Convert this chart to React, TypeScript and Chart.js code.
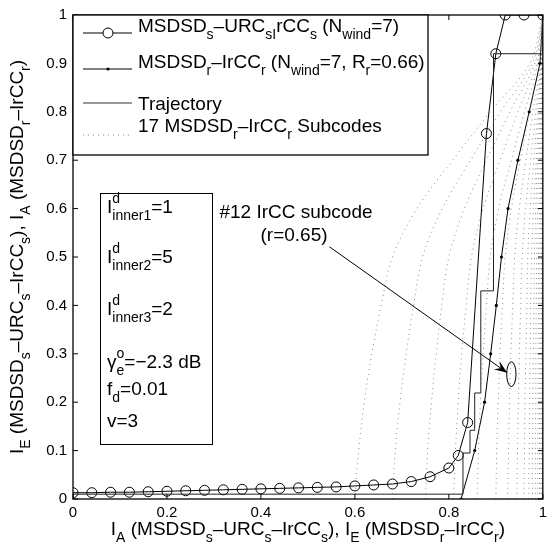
import React, { useEffect, useRef } from 'react';
import { Chart, registerables } from 'chart.js';
Chart.register(...registerables);

const FONT = '"Liberation Sans", Arial, Helvetica, sans-serif';

const xTicks = [0, 0.2, 0.4, 0.6, 0.8, 1];
const yTicks = [0, 0.1, 0.2, 0.3, 0.4, 0.5, 0.6, 0.7, 0.8, 0.9, 1];

// MSDSD_s-URC_s-IrCC_s (circles)
const urcX = [0, 0.04, 0.08, 0.12, 0.16, 0.2, 0.24, 0.28, 0.32, 0.36, 0.4, 0.44, 0.48, 0.52, 0.56, 0.6, 0.64, 0.68, 0.72, 0.76, 0.8, 0.82, 0.84, 0.88, 0.9, 0.92, 0.96, 1];
const urcY = [0.013, 0.013, 0.014, 0.014, 0.015, 0.016, 0.017, 0.018, 0.019, 0.02, 0.021, 0.022, 0.023, 0.024, 0.025, 0.027, 0.029, 0.031, 0.036, 0.046, 0.064, 0.09, 0.158, 0.755, 0.92, 1, 1, 1];

// MSDSD_r-IrCC_r (dots)
const ircX = [0.826, 0.855, 0.876, 0.889, 0.901, 0.912, 0.926, 0.947, 0.971, 0.994, 1];
const ircY = [0, 0.1, 0.2, 0.3, 0.4, 0.5, 0.6, 0.7, 0.8, 0.9, 1];

// Trajectory
const trajX = [0, 0.83, 0.83, 0.845, 0.845, 0.855, 0.855, 0.868, 0.868, 0.895, 0.895, 1, 1];
const trajY = [0.01, 0.01, 0.095, 0.095, 0.142, 0.142, 0.219, 0.219, 0.43, 0.43, 0.92, 0.92, 1];

// 17 subcodes
const subY = [0, 0.1, 0.2, 0.3, 0.4, 0.5, 0.6, 0.7, 0.8, 0.9, 1];
const subcodeX = [
  [0.600, 0.608, 0.620, 0.636, 0.656, 0.680, 0.732, 0.808, 0.888, 0.972, 1],
  [0.680, 0.686, 0.696, 0.709, 0.725, 0.744, 0.786, 0.846, 0.910, 0.978, 1],
  [0.750, 0.755, 0.763, 0.773, 0.785, 0.800, 0.833, 0.880, 0.930, 0.983, 1],
  [0.810, 0.814, 0.820, 0.827, 0.837, 0.848, 0.873, 0.909, 0.947, 0.987, 1],
  [0.860, 0.863, 0.867, 0.873, 0.880, 0.888, 0.906, 0.933, 0.961, 0.990, 1],
  [0.900, 0.902, 0.905, 0.909, 0.914, 0.920, 0.933, 0.952, 0.972, 0.993, 1],
  [0.925, 0.927, 0.929, 0.932, 0.936, 0.940, 0.950, 0.964, 0.979, 0.995, 1],
  [0.945, 0.946, 0.948, 0.950, 0.953, 0.956, 0.963, 0.974, 0.985, 0.996, 1],
  [0.960, 0.961, 0.962, 0.964, 0.966, 0.968, 0.973, 0.981, 0.989, 0.997, 1],
  [0.970, 0.971, 0.972, 0.973, 0.974, 0.976, 0.980, 0.986, 0.992, 0.998, 1],
  [0.978, 0.978, 0.979, 0.980, 0.981, 0.982, 0.985, 0.989, 0.994, 0.998, 1],
  [0.984, 0.984, 0.985, 0.985, 0.986, 0.987, 0.989, 0.992, 0.996, 0.999, 1],
  [0.989, 0.989, 0.990, 0.990, 0.991, 0.991, 0.993, 0.995, 0.997, 0.999, 1],
  [0.993, 0.993, 0.993, 0.994, 0.994, 0.994, 0.995, 0.997, 0.998, 1, 1],
  [0.996, 0.996, 0.996, 0.996, 0.997, 0.997, 0.997, 0.998, 0.999, 1, 1],
  [0.998, 0.998, 0.998, 0.998, 0.998, 0.998, 0.999, 0.999, 0.999, 1, 1],
  [0.999, 0.999, 0.999, 0.999, 0.999, 0.999, 0.999, 1, 1, 1, 1],
];

// annotation anchors (data units)
const arrowFrom = [0.546, 0.521];
const arrowTo = [0.924, 0.261];
const ellipseAt = [0.933, 0.258];
const ellipseR = [0.0099, 0.0257];

type Seg = { t: string; sub?: string; sup?: string };

const legendItems: Seg[][] = [
  [{ t: 'MSDSD', sub: 's' }, { t: '–URC', sub: 'sI' }, { t: 'rCC', sub: 's' }, { t: ' (N', sub: 'wind' }, { t: '=7)' }],
  [{ t: 'MSDSD', sub: 'r' }, { t: '–IrCC', sub: 'r' }, { t: ' (N', sub: 'wind' }, { t: '=7, R', sub: 'r' }, { t: '=0.66)' }],
  [{ t: 'Trajectory' }],
  [{ t: '17 MSDSD', sub: 'r' }, { t: '–IrCC', sub: 'r' }, { t: ' Subcodes' }],
];
const xLabel: Seg[] = [{ t: 'I', sub: 'A' }, { t: ' (MSDSD', sub: 's' }, { t: '–URC', sub: 's' }, { t: '–IrCC', sub: 's' }, { t: '), I', sub: 'E' }, { t: ' (MSDSD', sub: 'r' }, { t: '–IrCC', sub: 'r' }, { t: ')' }];
const yLabel: Seg[] = [{ t: 'I', sub: 'E' }, { t: ' (MSDSD', sub: 's' }, { t: '–URC', sub: 's' }, { t: '–IrCC', sub: 's' }, { t: '), I', sub: 'A' }, { t: ' (MSDSD', sub: 'r' }, { t: '–IrCC', sub: 'r' }, { t: ')' }];
const boxLines: Seg[][] = [
  [{ t: 'I', sup: 'd', sub: 'inner1' }, { t: '=1' }],
  [{ t: 'I', sup: 'd', sub: 'inner2' }, { t: '=5' }],
  [{ t: 'I', sup: 'd', sub: 'inner3' }, { t: '=2' }],
  [{ t: 'γ', sup: 'o', sub: 'e' }, { t: '=−2.3 dB' }],
  [{ t: 'f', sub: 'd' }, { t: '=0.01' }],
  [{ t: 'v=3' }],
];

const BASE = 19;
const SMALL = 14;

function richWidth(ctx: CanvasRenderingContext2D, segs: Seg[]) {
  let w = 0;
  for (const s of segs) {
    ctx.font = `${BASE}px ${FONT}`;
    w += ctx.measureText(s.t).width;
    ctx.font = `${SMALL}px ${FONT}`;
    const a = s.sub ? ctx.measureText(s.sub).width : 0;
    const b = s.sup ? ctx.measureText(s.sup).width : 0;
    w += Math.max(a, b);
  }
  return w;
}

function drawRich(ctx: CanvasRenderingContext2D, segs: Seg[], x: number, y: number, align: 'left' | 'center' = 'left') {
  let cx = align === 'center' ? x - richWidth(ctx, segs) / 2 : x;
  ctx.textAlign = 'left';
  ctx.textBaseline = 'alphabetic';
  ctx.fillStyle = '#000';
  for (const s of segs) {
    ctx.font = `${BASE}px ${FONT}`;
    ctx.fillText(s.t, cx, y);
    cx += ctx.measureText(s.t).width;
    ctx.font = `${SMALL}px ${FONT}`;
    let a = 0, b = 0;
    if (s.sub) { ctx.fillText(s.sub, cx, y + 7); a = ctx.measureText(s.sub).width; }
    if (s.sup) { ctx.fillText(s.sup, cx, y - 10); b = ctx.measureText(s.sup).width; }
    cx += Math.max(a, b);
  }
}

const overlay = {
  id: 'overlay',
  afterDraw(chart: any) {
    const { ctx, chartArea: a, scales } = chart;
    const xs = scales.x, ys = scales.y;
    ctx.save();
    // axes box
    ctx.strokeStyle = '#000';
    ctx.lineWidth = 1.3;
    ctx.strokeRect(a.left, a.top, a.right - a.left, a.bottom - a.top);
    ctx.lineWidth = 1;
    ctx.beginPath();
    for (const v of xTicks) {
      const px = xs.getPixelForValue(v);
      ctx.moveTo(px, a.bottom); ctx.lineTo(px, a.bottom - 5);
      ctx.moveTo(px, a.top); ctx.lineTo(px, a.top + 5);
    }
    for (const v of yTicks) {
      const py = ys.getPixelForValue(v);
      ctx.moveTo(a.left, py); ctx.lineTo(a.left + 5, py);
      ctx.moveTo(a.right, py); ctx.lineTo(a.right - 5, py);
    }
    ctx.stroke();

    // axis titles
    drawRich(ctx, xLabel, (a.left + a.right) / 2, 535, 'center');
    ctx.save();
    ctx.translate(23, (a.top + a.bottom) / 2);
    ctx.rotate(-Math.PI / 2);
    drawRich(ctx, yLabel, 0, 0, 'center');
    ctx.restore();

    // parameter box
    ctx.fillStyle = '#fff';
    ctx.fillRect(100, 193, 112, 251);
    ctx.strokeStyle = '#000';
    ctx.lineWidth = 1;
    ctx.strokeRect(100.5, 193.5, 112, 251);
    const boxBase = [213, 263, 315, 368, 395, 427];
    boxLines.forEach((l, i) => drawRich(ctx, l, 107, boxBase[i]));

    // annotation
    drawRich(ctx, [{ t: '#12 IrCC subcode' }], 296, 218, 'center');
    drawRich(ctx, [{ t: '(r=0.65)' }], 294, 241, 'center');
    const x1 = xs.getPixelForValue(arrowFrom[0]), y1 = ys.getPixelForValue(arrowFrom[1]);
    const x2 = xs.getPixelForValue(arrowTo[0]), y2 = ys.getPixelForValue(arrowTo[1]);
    ctx.strokeStyle = '#000';
    ctx.lineWidth = 1;
    ctx.beginPath(); ctx.moveTo(x1, y1); ctx.lineTo(x2, y2); ctx.stroke();
    const ang = Math.atan2(y2 - y1, x2 - x1);
    const L = 13, W = 5;
    ctx.fillStyle = '#000';
    ctx.beginPath();
    ctx.moveTo(x2, y2);
    ctx.lineTo(x2 - L * Math.cos(ang) + W * Math.sin(ang), y2 - L * Math.sin(ang) - W * Math.cos(ang));
    ctx.lineTo(x2 - 0.6 * L * Math.cos(ang), y2 - 0.6 * L * Math.sin(ang));
    ctx.lineTo(x2 - L * Math.cos(ang) - W * Math.sin(ang), y2 - L * Math.sin(ang) + W * Math.cos(ang));
    ctx.closePath(); ctx.fill();
    const ex = xs.getPixelForValue(ellipseAt[0]), ey = ys.getPixelForValue(ellipseAt[1]);
    const rx = Math.abs(xs.getPixelForValue(ellipseAt[0] + ellipseR[0]) - ex);
    const ry = Math.abs(ys.getPixelForValue(ellipseAt[1] + ellipseR[1]) - ey);
    ctx.beginPath(); ctx.ellipse(ex, ey, rx, ry, 0, 0, Math.PI * 2); ctx.stroke();

    // legend
    const lx = a.left, ly = a.top, lw = 428 - a.left, lh = 155 - a.top;
    ctx.fillStyle = '#fff';
    ctx.fillRect(lx, ly, lw, lh);
    ctx.strokeStyle = '#000';
    ctx.lineWidth = 1.3;
    ctx.strokeRect(lx, ly, lw, lh);
    const lineY = [33, 69, 103, 135];
    const textY = [32, 68, 110, 132];
    const cols = ['#000', '#000', '#333', '#888'];
    lineY.forEach((yy, i) => {
      ctx.strokeStyle = cols[i];
      ctx.lineWidth = 1;
      ctx.setLineDash(i === 3 ? [1, 4] : []);
      ctx.beginPath(); ctx.moveTo(83, yy); ctx.lineTo(132, yy); ctx.stroke();
      ctx.setLineDash([]);
      if (i === 0) { ctx.fillStyle = '#fff'; ctx.beginPath(); ctx.arc(108, yy, 5, 0, Math.PI * 2); ctx.fill(); ctx.strokeStyle = '#000'; ctx.stroke(); }
      if (i === 1) { ctx.fillStyle = '#000'; ctx.beginPath(); ctx.arc(108, yy, 1.6, 0, Math.PI * 2); ctx.fill(); }
      drawRich(ctx, legendItems[i], 138, textY[i]);
    });
    ctx.restore();
  },
};

export default function App() {
  const ref = useRef<HTMLCanvasElement>(null);
  useEffect(() => {
    if (!ref.current) return;
    const pts = (xa: number[], ya: number[]) => xa.map((v, i) => ({ x: v, y: ya[i] }));
    const subDatasets = subcodeX.map((xa) => ({
      data: pts(xa, subY),
      showLine: true,
      borderColor: '#8a8a8a',
      borderWidth: 1,
      borderDash: [1, 4],
      pointRadius: 0,
      tension: 0.35,
    }));
    const chart = new Chart(ref.current, {
      type: 'scatter',
      data: {
        datasets: [
          ...subDatasets,
          { data: pts(trajX, trajY), showLine: true, borderColor: '#222', borderWidth: 1, pointRadius: 0, tension: 0 },
          { data: pts(ircX, ircY), showLine: true, borderColor: '#000', backgroundColor: '#000', borderWidth: 1, pointRadius: 1.6, pointBorderWidth: 0, tension: 0 },
          { data: pts(urcX, urcY), showLine: true, borderColor: '#000', backgroundColor: 'rgba(0,0,0,0)', borderWidth: 1, pointRadius: 5, pointBorderWidth: 1, tension: 0 },
        ] as any,
      },
      options: {
        animation: false,
        responsive: true,
        maintainAspectRatio: false,
        layout: { padding: { top: 13, right: 3, left: 0, bottom: 0 } },
        plugins: { legend: { display: false }, tooltip: { enabled: false } },
        scales: {
          x: {
            type: 'linear', min: 0, max: 1,
            afterBuildTicks: (s: any) => { s.ticks = xTicks.map((v) => ({ value: v })); },
            afterFit: (s: any) => { s.height = 47; },
            grid: { display: false, drawTicks: false },
            border: { display: false },
            ticks: { color: '#000', padding: 5, maxRotation: 0, font: { family: FONT, size: 15 }, callback: (v: any) => String(v) },
          },
          y: {
            type: 'linear', min: 0, max: 1,
            afterBuildTicks: (s: any) => { s.ticks = yTicks.map((v) => ({ value: v })); },
            afterFit: (s: any) => { s.width = 73; },
            grid: { display: false, drawTicks: false },
            border: { display: false },
            ticks: { color: '#000', padding: 6, font: { family: FONT, size: 15 }, callback: (v: any) => String(v) },
          },
        },
      },
      plugins: [overlay],
    });
    return () => chart.destroy();
  }, []);
  return (
    <div style={{ position: 'fixed', left: 0, top: 0, width: 552, height: 546, background: '#fff' }}>
      <canvas ref={ref} />
    </div>
  );
}
